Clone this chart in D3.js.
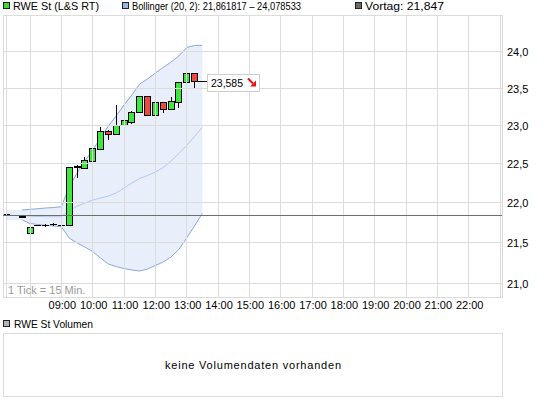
<!DOCTYPE html>
<html><head><meta charset="utf-8">
<script src="https://cdn.jsdelivr.net/npm/d3@7"></script>
<style>
body{margin:0;background:#fff}
svg{display:block}
text{font-family:"Liberation Sans",Arial,sans-serif;font-size:11px;fill:#000}
</style>
</head><body>
<svg id="c" width="545" height="401"></svg>
<script>
// ---- data ----
const candleTimes = ["07:15","07:45","08:00","08:15","08:30","08:45","09:00","09:15","09:30","09:45","10:00","10:15","10:30","10:45","11:00","11:15","11:30","11:45","12:00","12:15","12:30","12:45","13:00","13:15"];
const openV  = [21.85,21.83,21.62,21.72,21.715,21.725,21.715,21.715,22.45,22.44,22.53,22.69,22.92,22.88,23.00,23.04,23.17,23.39,23.13,23.31,23.21,23.31,23.58,23.70];
const highV  = [21.85,21.83,21.72,21.72,21.73,21.735,21.72,22.45,22.48,22.58,22.74,22.97,22.94,23.27,23.08,23.18,23.39,23.39,23.31,23.31,23.37,23.58,23.90,23.70];
const lowV   = [21.85,21.82,21.62,21.71,21.70,21.715,21.69,21.715,22.32,22.44,22.45,22.69,22.82,22.88,23.00,23.03,23.17,23.13,23.13,23.17,23.21,23.24,23.48,23.51];
const closeV = [21.85,21.82,21.69,21.71,21.715,21.725,21.715,22.45,22.47,22.54,22.70,22.92,22.88,23.00,23.07,23.17,23.39,23.13,23.31,23.21,23.32,23.58,23.70,23.585];

const bandTimes = ["07:15","07:45","08:00","08:15","08:30","08:45","09:00","09:15","09:30","09:45","10:00","10:15","10:30","10:45","11:00","11:15","11:30","11:45","12:00","12:15","12:30","12:45","13:00","13:15","13:30"];
const upperV  = [21.904,21.904,21.912,21.92,21.929,21.935,21.945,22.195,22.374,22.529,22.672,22.829,22.987,23.12,23.267,23.401,23.549,23.617,23.698,23.773,23.849,23.931,24.048,24.076,24.078533];
const middleV = [21.841,21.841,21.825,21.822,21.82,21.819,21.819,21.896,21.95,21.992,22.03,22.055,22.08,22.119,22.182,22.246,22.304,22.342,22.387,22.445,22.529,22.627,22.731,22.849,22.97];
const lowerV  = [21.778,21.778,21.734,21.722,21.712,21.703,21.694,21.554,21.492,21.443,21.387,21.307,21.234,21.203,21.179,21.161,21.149,21.173,21.216,21.258,21.32,21.412,21.554,21.703,21.861817];

const priceTicks = [21.0,21.5,22.0,22.5,23.0,23.5,24.0];
const gridTimes  = ["07:15","08:00","09:00","10:00","11:00","12:00","13:00","14:00","15:00","16:00","17:00","18:00","19:00","20:00","21:00","22:00","23:00"];
const hourLabels = ["09:00","10:00","11:00","12:00","13:00","14:00","15:00","16:00","17:00","18:00","19:00","20:00","21:00","22:00"];
const vortag = 21.847;
const lastPrice = 23.585;
const bbPeriod = 20, bbDev = 2;

// ---- helpers ----
const parseT = s => { const [h,m] = s.split(":").map(Number); return new Date(2000,0,1,h,m); };
const de = (v,d) => v.toFixed(d).replace(".", ",");

const svg = d3.select("#c");
const L = 3, R = 502, T = 15, B = 297;

const x = d3.scaleTime().domain([parseT("08:00"), parseT("23:00")]).range([30, 500]);
const y = d3.scaleLog().domain([21, 24]).range([283.3, 51]);

svg.append("defs").append("clipPath").attr("id","pc")
  .append("rect").attr("x",L).attr("y",T).attr("width",R-L).attr("height",B-T);

// band fill
const band = bandTimes.map((t,i)=>({t:parseT(t),u:upperV[i],m:middleV[i],l:lowerV[i]}));
const plot = svg.append("g").attr("clip-path","url(#pc)");
plot.append("path").datum(band)
  .attr("d", d3.area().x(d=>x(d.t)).y0(d=>y(d.l)).y1(d=>y(d.u)))
  .attr("fill","#e8effb");

// grid
const grid = svg.append("g").attr("stroke","#dcdcdc").attr("shape-rendering","crispEdges");
gridTimes.forEach(t=>{
  const xx = Math.floor(x(parseT(t)))+0.5;
  grid.append("line").attr("x1",xx).attr("x2",xx).attr("y1",T).attr("y2",B);
});
priceTicks.forEach(p=>{
  const yy = Math.round(y(p))+0.5;
  grid.append("line").attr("x1",L).attr("x2",R).attr("y1",yy).attr("y2",yy);
});
grid.append("rect").attr("x",L+0.5).attr("y",T+0.5).attr("width",R-L).attr("height",B-T).attr("fill","none");

// band lines
const lineU = d3.line().x(d=>x(d.t)).y(d=>y(d.u));
const lineL = d3.line().x(d=>x(d.t)).y(d=>y(d.l));
const lineM = d3.line().x(d=>x(d.t)).y(d=>y(d.m));
plot.append("path").datum(band.slice(1)).attr("d",lineM).attr("fill","none").attr("stroke","#b2c8f2").attr("stroke-width",1);
plot.append("path").datum(band.slice(1)).attr("d",lineU).attr("fill","none").attr("stroke","#8ea7dc").attr("stroke-width",1);
plot.append("path").datum(band.slice(1)).attr("d",lineL).attr("fill","none").attr("stroke","#8ea7dc").attr("stroke-width",1);

// candles
const cg = plot.append("g").attr("shape-rendering","crispEdges");
candleTimes.forEach((t,i)=>{
  const cx = Math.floor(x(parseT(t)));
  const o = openV[i], c = closeV[i], h = highV[i], l = lowV[i];
  const yh = Math.round(y(h)), yl = Math.round(y(l));
  if (yl > yh) cg.append("line").attr("x1",cx+0.5).attr("x2",cx+0.5).attr("y1",yh).attr("y2",yl+1).attr("stroke","#000");
  const yt = Math.round(y(Math.max(o,c))), yb = Math.round(y(Math.min(o,c)));
  if (yb - yt < 1) {
    cg.append("line").attr("x1",cx-3).attr("x2",cx+4).attr("y1",yt+0.5).attr("y2",yt+0.5).attr("stroke","#000");
  } else {
    cg.append("rect").attr("x",cx-2.5).attr("y",yt+0.5).attr("width",6).attr("height",yb-yt)
      .attr("fill", c>=o ? "#3be83b" : "#f04646").attr("stroke","#000");
  }
});

// Vortag line
const yv = Math.round(y(vortag))+0.5;
svg.append("line").attr("x1",L).attr("x2",R).attr("y1",yv).attr("y2",yv).attr("stroke","#6e6e6e").attr("shape-rendering","crispEdges");

// last price marker
const lastX = Math.floor(x(parseT(candleTimes[candleTimes.length-1])))+4;
const yp = Math.round(y(lastPrice))+0.5;
svg.append("line").attr("x1",lastX).attr("x2",207).attr("y1",yp).attr("y2",yp).attr("stroke","#000").attr("shape-rendering","crispEdges");
svg.append("rect").attr("x",207.5).attr("y",yp-7).attr("width",52).attr("height",17).attr("fill","#fff").attr("stroke","#cfcfcf").attr("shape-rendering","crispEdges");
svg.append("text").attr("x",211).attr("y",yp+5).attr("textLength",32).attr("lengthAdjust","spacingAndGlyphs").style("font-size","11.5px").text(de(lastPrice,3));
const ar = svg.append("g").attr("transform",`translate(248,${yp-3})`);
ar.append("line").attr("x1",0).attr("x2",5).attr("y1",0).attr("y2",5).attr("stroke","#e81010").attr("stroke-width",2);
ar.append("path").attr("d","M8,8 L8,2 L2,8 Z").attr("fill","#e81010");

// axes labels
priceTicks.forEach(p=>{
  svg.append("text").attr("x",507).attr("y",Math.round(y(p))+5).text(de(p,1));
});
hourLabels.forEach(t=>{
  svg.append("text").attr("x",x(parseT(t))+1).attr("y",309).attr("text-anchor","middle").text(t);
});
svg.append("text").attr("x",8).attr("y",294).style("fill","#9a9a9a").text("1 Tick = 15 Min.");

// legend
const legend = [
  {x:3, color:"#3ddc3d", w:86, label:"RWE St (L&S RT)"},
  {x:122, color:"#9db2e2", w:169, label:`Bollinger (${bbPeriod}, ${bbDev}): ${de(lowerV[lowerV.length-1],6)} – ${de(upperV[upperV.length-1],6)}`},
  {x:355, color:"#6a6a6a", w:79, label:`Vortag: ${de(vortag,3)}`}
];
legend.forEach(d=>{
  svg.append("rect").attr("x",d.x+0.5).attr("y",2.5).attr("width",6).attr("height",6).attr("fill",d.color).attr("stroke","#222").attr("shape-rendering","crispEdges");
  svg.append("text").attr("x",d.x+10).attr("y",10).attr("textLength",d.w).attr("lengthAdjust","spacingAndGlyphs").text(d.label);
});

// volume panel
svg.append("rect").attr("x",3.5).attr("y",320.5).attr("width",6).attr("height",6).attr("fill","#b4b4b4").attr("stroke","#222").attr("shape-rendering","crispEdges");
svg.append("text").attr("x",14).attr("y",328).attr("textLength",79).attr("lengthAdjust","spacingAndGlyphs").text("RWE St Volumen");
svg.append("rect").attr("x",3.5).attr("y",333.5).attr("width",499).attr("height",63).attr("fill","none").attr("stroke","#dcdcdc").attr("shape-rendering","crispEdges");
svg.append("text").attr("x",253).attr("y",369).attr("text-anchor","middle").attr("textLength",176).attr("lengthAdjust","spacing").text("keine Volumendaten vorhanden");
</script>
</body></html>
